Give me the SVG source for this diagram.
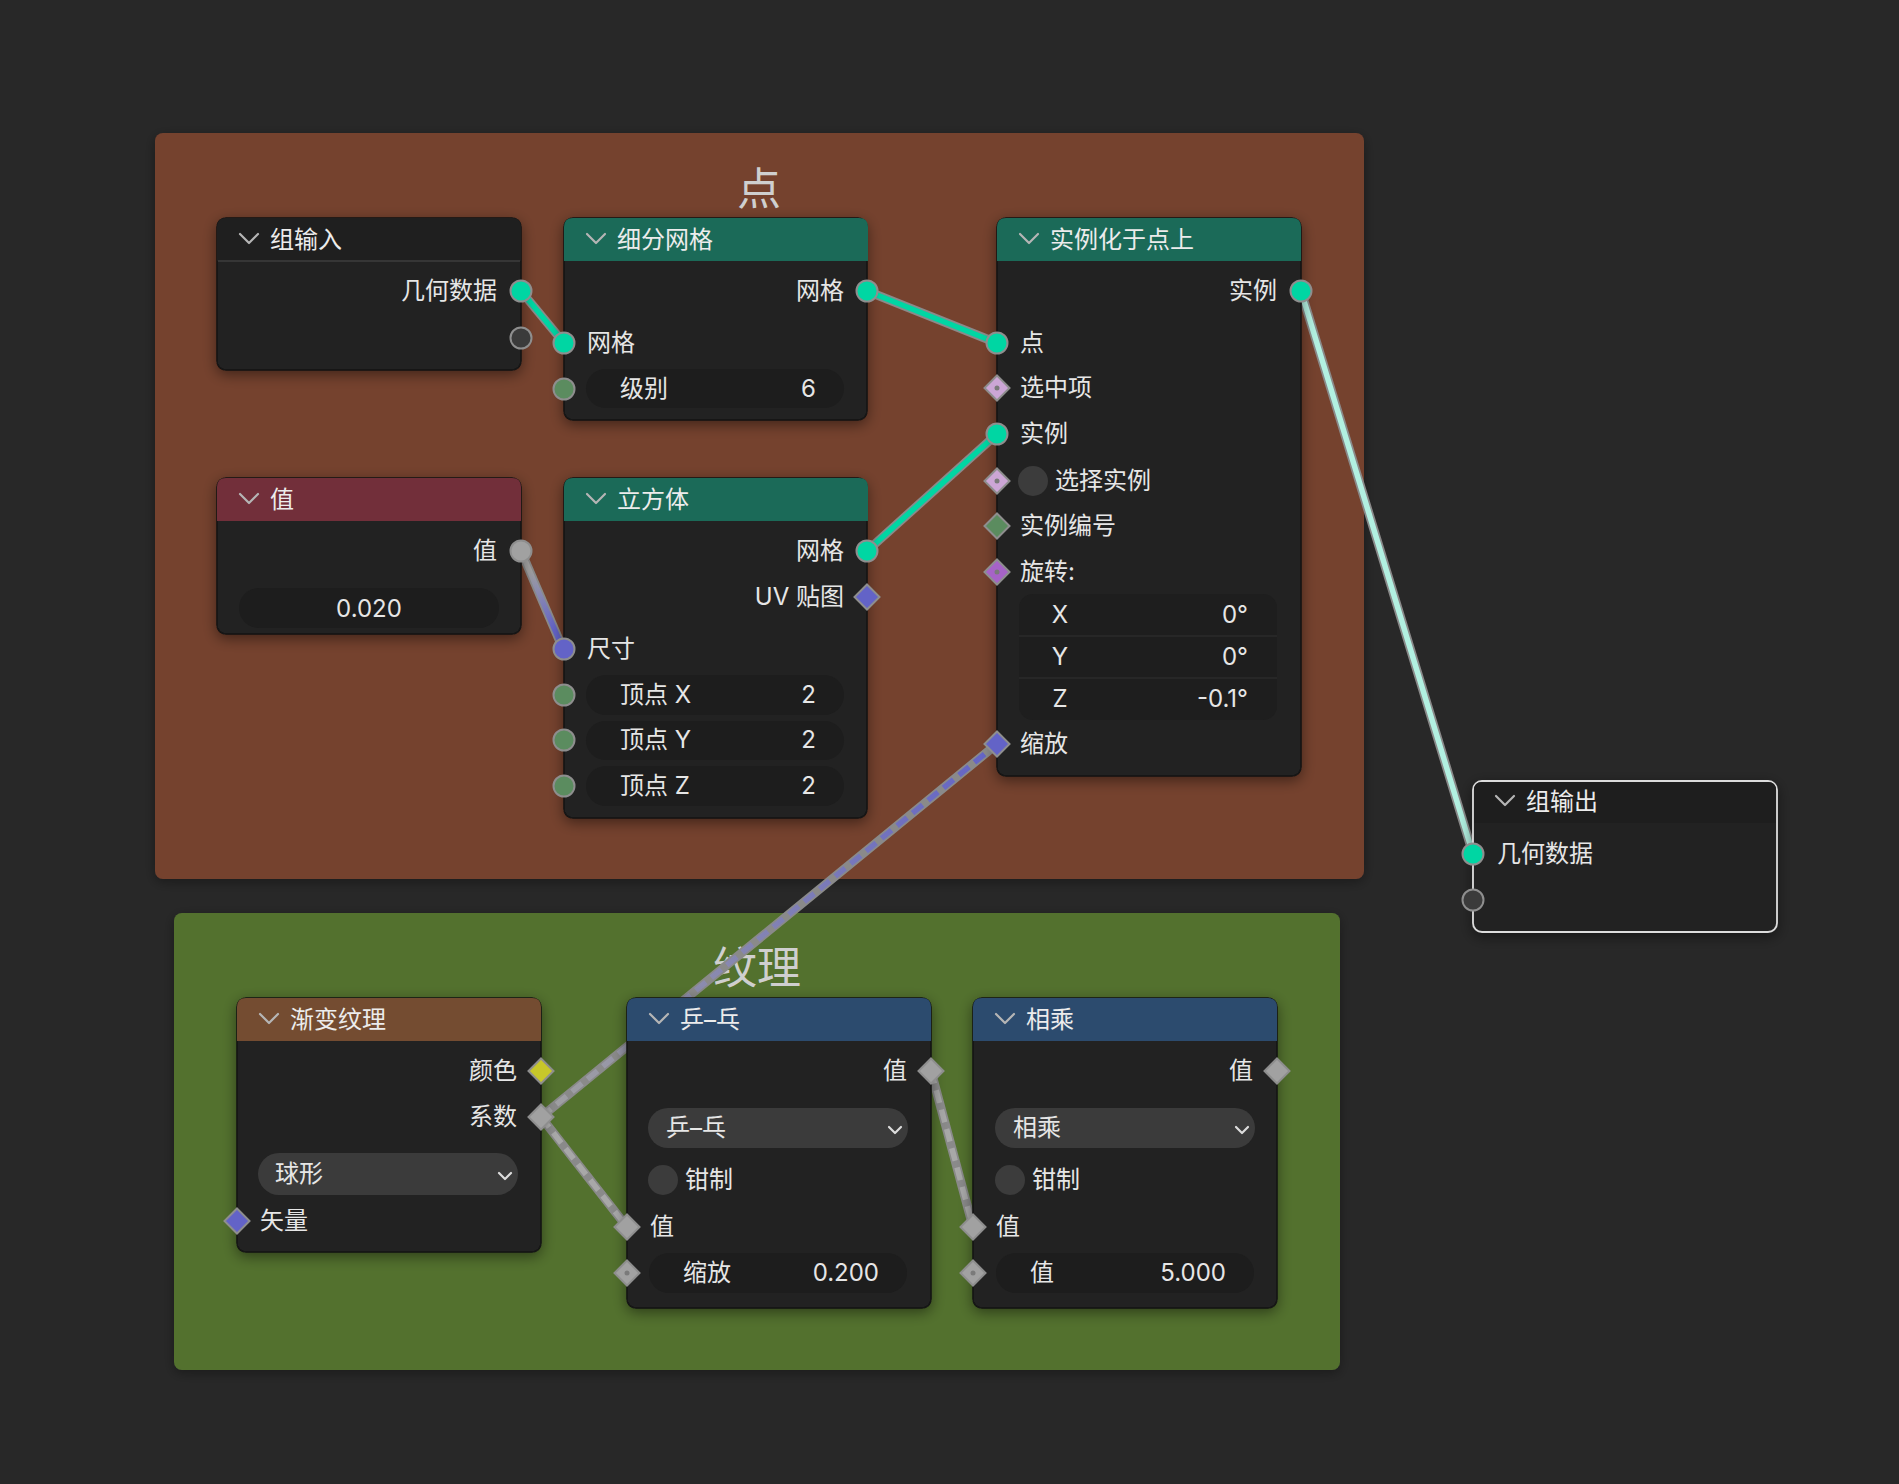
<svg xmlns="http://www.w3.org/2000/svg" width="1899" height="1484" viewBox="0 0 1899 1484">
<defs>
<style>
text{font-family:Inter,"Noto Sans CJK SC",sans-serif;font-size:24px;fill:#e6e6e6}
.hd{fill:#ececec}
.r{text-anchor:end}
.c{text-anchor:middle}
.ft{font-size:44px;fill:#cfcfcf;text-anchor:middle}
.body{fill:#242424;stroke:#141414;stroke-width:1.5}
.sel{fill:#242424;stroke:#dcdcdc;stroke-width:1.8}
.chev{fill:none;stroke:#b5b5b5;stroke-width:2.2;stroke-linecap:round;stroke-linejoin:round}
.dchev{fill:none;stroke:#dcdcdc;stroke-width:2.2;stroke-linecap:round;stroke-linejoin:round}
.sk{stroke:#8e8e8e;stroke-width:2}
.fld{fill:#1d1d1d}
.dd{fill:#3b3b3b}
.tog{fill:#3c3c3c}
.dot{fill:#7a7a7a}
.lo{fill:none;stroke:#8a8a8a;stroke-width:9;stroke-linecap:round}
.lc{fill:none;stroke-width:5.5;stroke-linecap:round}
.dash{stroke-dasharray:13 7;stroke-linecap:butt}
.geo{fill:#00d6a3}
.flt{fill:#a1a1a1}
.vec{fill:#6363c7}
.int{fill:#5b8c5f}
.bool{fill:#cca6d6}
.rot{fill:#a663c7}
.col{fill:#c7c729}
.emp{fill:#3b3b3b}
</style>
<filter id="sh" x="-20%" y="-20%" width="140%" height="140%"><feDropShadow dx="0" dy="4" stdDeviation="7" flood-color="#000" flood-opacity="0.45"/></filter>
<filter id="fsh" x="-10%" y="-10%" width="120%" height="120%"><feDropShadow dx="0" dy="3" stdDeviation="6" flood-color="#000" flood-opacity="0.35"/></filter>
<polygon id="dia" points="0,-12.5 12.5,0 0,12.5 -12.5,0"/>
<path id="hdr" d="M0,43V9Q0,0 9,0H295Q304,0 304,9V43Z"/>
<linearGradient id="g1" gradientUnits="userSpaceOnUse" x1="521" y1="551" x2="563" y2="649"><stop offset="0.2" stop-color="#a1a1a1"/><stop offset="0.8" stop-color="#6363c7"/></linearGradient>
<linearGradient id="g2" gradientUnits="userSpaceOnUse" x1="541" y1="1117" x2="997" y2="744"><stop offset="0" stop-color="#a1a1a1"/><stop offset="1" stop-color="#6363c7"/></linearGradient>
</defs>
<rect x="0" y="0" width="1899" height="1484" fill="#282828"/>

<g id="frame-points">
<rect x="155" y="133" width="1209" height="746" rx="8" fill="#74422f" filter="url(#fsh)"/>
<text class="ft" x="759" y="205">点</text>
</g>
<g id="frame-texture">
<rect x="174" y="913" width="1166" height="457" rx="8" fill="#53712f" filter="url(#fsh)"/>
<text class="ft" x="757" y="984">纹理</text>
</g>

<g id="connectors">
<path class="lo" d="M521,291 L564,343"/><path class="lc geo-l" stroke="#00d6a3" d="M521,291 L564,343"/>
<path class="lo" d="M867,291 L997,343"/><path class="lc" stroke="#00d6a3" d="M867,291 L997,343"/>
<path class="lo" d="M867,551 L997,434"/><path class="lc" stroke="#00d6a3" d="M867,551 L997,434"/>
<path class="lo" d="M1301,291 L1473,854"/><path class="lc" stroke="#b2f0e1" d="M1301,291 L1473,854"/>
<path class="lo" d="M521,551 L563,649"/><path class="lc" stroke="url(#g1)" d="M521,551 L563,649"/>
<path class="lo" stroke="#6e6e6e" d="M541,1117 L997,744"/><path class="lc dash" stroke="url(#g2)" d="M541,1117 L997,744"/>
<path class="lo" stroke="#6e6e6e" d="M541,1117 L627,1227"/><path class="lc dash" stroke="#a8a8a8" d="M541,1117 L627,1227"/>
<path class="lo" stroke="#6e6e6e" d="M931,1071 L973,1227"/><path class="lc dash" stroke="#a8a8a8" d="M931,1071 L973,1227"/>
</g>

<g id="node-group-input" transform="translate(217,218)">
<rect class="body" width="304" height="152" rx="9" filter="url(#sh)"/>
<use href="#hdr" fill="#1f1f1f"/>
<line x1="1" y1="43" x2="303" y2="43" stroke="#363636" stroke-width="2"/>
<polyline class="chev" points="23,16 32,25 41,16"/>
<text class="hd" x="53" y="30">组输入</text>
<text class="r" x="280" y="81">几何数据</text>
<circle class="sk geo" cx="304" cy="73" r="10.5"/>
<circle class="sk emp" cx="304" cy="120" r="10.5"/>
</g>

<g id="node-subdivide" transform="translate(564,218)">
<rect class="body" width="303" height="202" rx="9" filter="url(#sh)"/>
<use href="#hdr" fill="#1b6a58"/>
<polyline class="chev" points="23,16 32,25 41,16"/>
<text class="hd" x="53" y="30">细分网格</text>
<text class="r" x="280" y="81">网格</text>
<circle class="sk geo" cx="303" cy="73" r="10.5"/>
<text x="23" y="133">网格</text>
<circle class="sk geo" cx="0" cy="125" r="10.5"/>
<rect class="fld" x="22" y="151" width="258" height="39" rx="19.5"/>
<text x="56" y="179">级别</text>
<text class="r" x="252" y="179">6</text>
<circle class="sk int" cx="0" cy="171" r="10.5"/>
</g>

<g id="node-instance-on-points" transform="translate(997,218)">
<rect class="body" width="304" height="558" rx="9" filter="url(#sh)"/>
<use href="#hdr" fill="#1b6a58"/>
<polyline class="chev" points="23,16 32,25 41,16"/>
<text class="hd" x="53" y="30">实例化于点上</text>
<text class="r" x="280" y="81">实例</text>
<circle class="sk geo" cx="304" cy="73" r="10.5"/>
<text x="23" y="133">点</text>
<circle class="sk geo" cx="0" cy="125" r="10.5"/>
<text x="23" y="178">选中项</text>
<use href="#dia" class="sk bool" x="0" y="170"/><circle class="dot" cx="0" cy="170" r="2.5"/>
<text x="23" y="224">实例</text>
<circle class="sk geo" cx="0" cy="216" r="10.5"/>
<circle class="tog" cx="36" cy="263" r="15"/>
<text x="58" y="271">选择实例</text>
<use href="#dia" class="sk bool" x="0" y="263"/><circle class="dot" cx="0" cy="263" r="2.5"/>
<text x="23" y="316">实例编号</text>
<use href="#dia" class="sk int" x="0" y="308"/>
<text x="23" y="362">旋转:</text>
<use href="#dia" class="sk rot" x="0" y="354"/><circle class="dot" cx="0" cy="354" r="2.5"/>
<rect x="22" y="376" width="258" height="126" rx="14" fill="#1e1e1e"/>
<line x1="22" y1="418" x2="280" y2="418" stroke="#2b2b2b" stroke-width="1.5"/>
<line x1="22" y1="460" x2="280" y2="460" stroke="#2b2b2b" stroke-width="1.5"/>
<text class="c" x="63" y="405">X</text><text class="r" x="251" y="405">0°</text>
<text class="c" x="63" y="447">Y</text><text class="r" x="251" y="447">0°</text>
<text class="c" x="63" y="489">Z</text><text class="r" x="251" y="489">-0.1°</text>
<text x="23" y="534">缩放</text>
<use href="#dia" class="sk vec" x="0" y="526"/>
</g>

<g id="node-value" transform="translate(217,478)">
<rect class="body" width="304" height="156" rx="9" filter="url(#sh)"/>
<use href="#hdr" fill="#722f3a"/>
<polyline class="chev" points="23,16 32,25 41,16"/>
<text class="hd" x="53" y="30">值</text>
<text class="r" x="280" y="81">值</text>
<circle class="sk flt" cx="304" cy="73" r="10.5"/>
<rect class="fld" x="22" y="110" width="260" height="40" rx="20"/>
<text class="c" x="152" y="139">0.020</text>
</g>

<g id="node-cube" transform="translate(564,478)">
<rect class="body" width="303" height="340" rx="9" filter="url(#sh)"/>
<use href="#hdr" fill="#1b6a58"/>
<polyline class="chev" points="23,16 32,25 41,16"/>
<text class="hd" x="53" y="30">立方体</text>
<text class="r" x="280" y="81">网格</text>
<circle class="sk geo" cx="303" cy="73" r="10.5"/>
<text class="r" x="280" y="127">UV 贴图</text>
<use href="#dia" class="sk vec" x="303" y="119"/>
<text x="23" y="179">尺寸</text>
<circle class="sk vec" cx="0" cy="171" r="10.5"/>
<rect class="fld" x="22" y="197" width="258" height="40" rx="20"/>
<text x="56" y="225">顶点 X</text><text class="r" x="252" y="225">2</text>
<circle class="sk int" cx="0" cy="217" r="10.5"/>
<rect class="fld" x="22" y="243" width="258" height="39" rx="19.5"/>
<text x="56" y="270">顶点 Y</text><text class="r" x="252" y="270">2</text>
<circle class="sk int" cx="0" cy="262" r="10.5"/>
<rect class="fld" x="22" y="288" width="258" height="40" rx="20"/>
<text x="56" y="316">顶点 Z</text><text class="r" x="252" y="316">2</text>
<circle class="sk int" cx="0" cy="308" r="10.5"/>
</g>

<g id="node-group-output" transform="translate(1473,781)">
<rect class="sel" width="304" height="151" rx="9" filter="url(#sh)"/>
<path d="M1,42V9Q1,1 9,1H295Q303,1 303,9V42Z" fill="#1e1e1e"/>
<polyline class="chev" points="23,15 32,24 41,15"/>
<text class="hd" x="53" y="29">组输出</text>
<text x="24" y="81">几何数据</text>
<circle class="sk geo" cx="0" cy="73" r="10.5"/>
<circle class="sk emp" cx="0" cy="119" r="10.5"/>
</g>

<g id="node-gradient-texture" transform="translate(237,998)">
<rect class="body" width="304" height="254" rx="9" filter="url(#sh)"/>
<use href="#hdr" fill="#744c31"/>
<polyline class="chev" points="23,16 32,25 41,16"/>
<text class="hd" x="53" y="30">渐变纹理</text>
<text class="r" x="280" y="81">颜色</text>
<use href="#dia" class="sk col" x="304" y="73"/>
<text class="r" x="280" y="127">系数</text>
<use href="#dia" class="sk flt" x="304" y="119"/>
<rect class="dd" x="21" y="155" width="260" height="42" rx="21"/>
<text x="38" y="184">球形</text>
<polyline class="dchev" points="262,175 268,181 274,175"/>
<text x="23" y="231">矢量</text>
<use href="#dia" class="sk vec" x="0" y="223"/>
</g>

<g id="node-pingpong" transform="translate(627,998)">
<rect class="body" width="304" height="310" rx="9" filter="url(#sh)"/>
<use href="#hdr" fill="#2c4b6e"/>
<polyline class="chev" points="23,16 32,25 41,16"/>
<text class="hd" x="53" y="30">乒–乓</text>
<text class="r" x="280" y="81">值</text>
<use href="#dia" class="sk flt" x="304" y="73"/>
<rect class="dd" x="21" y="110" width="260" height="40" rx="20"/>
<text x="39" y="138">乒–乓</text>
<polyline class="dchev" points="262,129 268,135 274,129"/>
<circle class="tog" cx="36" cy="182" r="15"/>
<text x="58" y="190">钳制</text>
<text x="23" y="237">值</text>
<use href="#dia" class="sk flt" x="0" y="229"/>
<rect class="fld" x="22" y="255" width="258" height="40" rx="20"/>
<text x="56" y="283">缩放</text>
<text class="r" x="252" y="283">0.200</text>
<use href="#dia" class="sk flt" x="0" y="275"/><circle class="dot" cx="0" cy="275" r="2.5"/>
</g>

<g id="node-multiply" transform="translate(973,998)">
<rect class="body" width="304" height="310" rx="9" filter="url(#sh)"/>
<use href="#hdr" fill="#2c4b6e"/>
<polyline class="chev" points="23,16 32,25 41,16"/>
<text class="hd" x="53" y="30">相乘</text>
<text class="r" x="280" y="81">值</text>
<use href="#dia" class="sk flt" x="304" y="73"/>
<rect class="dd" x="22" y="110" width="260" height="40" rx="20"/>
<text x="40" y="138">相乘</text>
<polyline class="dchev" points="263,129 269,135 275,129"/>
<circle class="tog" cx="37" cy="182" r="15"/>
<text x="59" y="190">钳制</text>
<text x="23" y="237">值</text>
<use href="#dia" class="sk flt" x="0" y="229"/>
<rect class="fld" x="23" y="255" width="258" height="40" rx="20"/>
<text x="57" y="283">值</text>
<text class="r" x="253" y="283">5.000</text>
<use href="#dia" class="sk flt" x="0" y="275"/><circle class="dot" cx="0" cy="275" r="2.5"/>
</g>
</svg>
